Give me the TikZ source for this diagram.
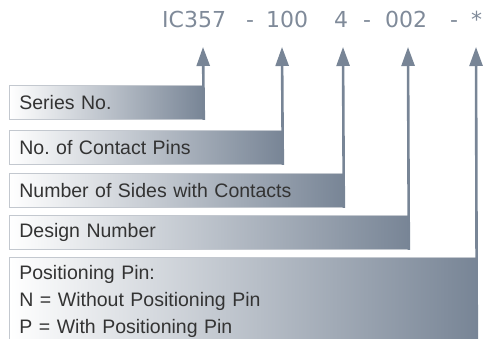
\documentclass[tikz,border=0pt]{standalone}
\usepackage{fontspec}
\setmainfont{Liberation Sans}
\newfontfamily\codefont{DejaVu Sans}
\usepackage{xcolor}
\usepackage{tikz}
\usetikzlibrary{arrows.meta,positioning}
\definecolor{slate}{HTML}{788596}
\definecolor{codegray}{HTML}{7F8A99}
\definecolor{boxline}{HTML}{C3C8CF}
\definecolor{labeltext}{HTML}{333333}
\frenchspacing

\begin{document}
\begin{tikzpicture}[x=1pt,y=-1pt,
        box/.style={draw=boxline, line width=0.8pt, left color=white, right color=slate,
            anchor=north west, inner xsep=10pt, align=left, text=labeltext,
            font=\fontsize{19.5}{27}\selectfont},
        code/.style={anchor=base west, inner sep=0pt, text=codegray,
            font=\codefont\fontsize{22}{24}\selectfont},
        pointer/.style={draw=slate, line width=2.6pt, -{Triangle[width=13pt,length=19pt]}}]
    \useasboundingbox (0,0) rectangle (486,338);
    % part number
    \node[code] (cseries) at (162,27) {IC357};
    \node[code] (dash1) at (246,27) {-};
    \node[code] (cpins) at (266,27) {100};
    \node[code] (csides) at (334,27) {4};
    \node[code] (dash2) at (363,27) {-};
    \node[code] (cdesign) at (385,27) {002};
    \node[code] (dash3) at (450,27) {-};
    \node[code] (cpos) at (471,27) {*};
    % label boxes
    \foreach \i/\top/\rx/\lab in {1/85/203/Series No.,2/130/282/No. of Contact Pins,
            3/173/343/Number of Sides with Contacts,4/215/408/Design Number} {
            \pgfmathsetmacro\w{\rx-29}
            \node[box, text width=\w pt, minimum height=34pt] (b\i) at (9,\top) {\lab};
            \coordinate (t\i) at (\rx,47);
        }
    \node[box, text width=447pt, inner ysep=8pt] (b5) at (9,257)
        {Positioning Pin:\\N = Without Positioning Pin\\P = With Positioning Pin};
    \coordinate (t5) at (476,47);
    % pointers
    \foreach \i in {1,...,5} {
            \draw[pointer] (b\i.south east) -- (t\i);
        }
\end{tikzpicture}
\end{document}
